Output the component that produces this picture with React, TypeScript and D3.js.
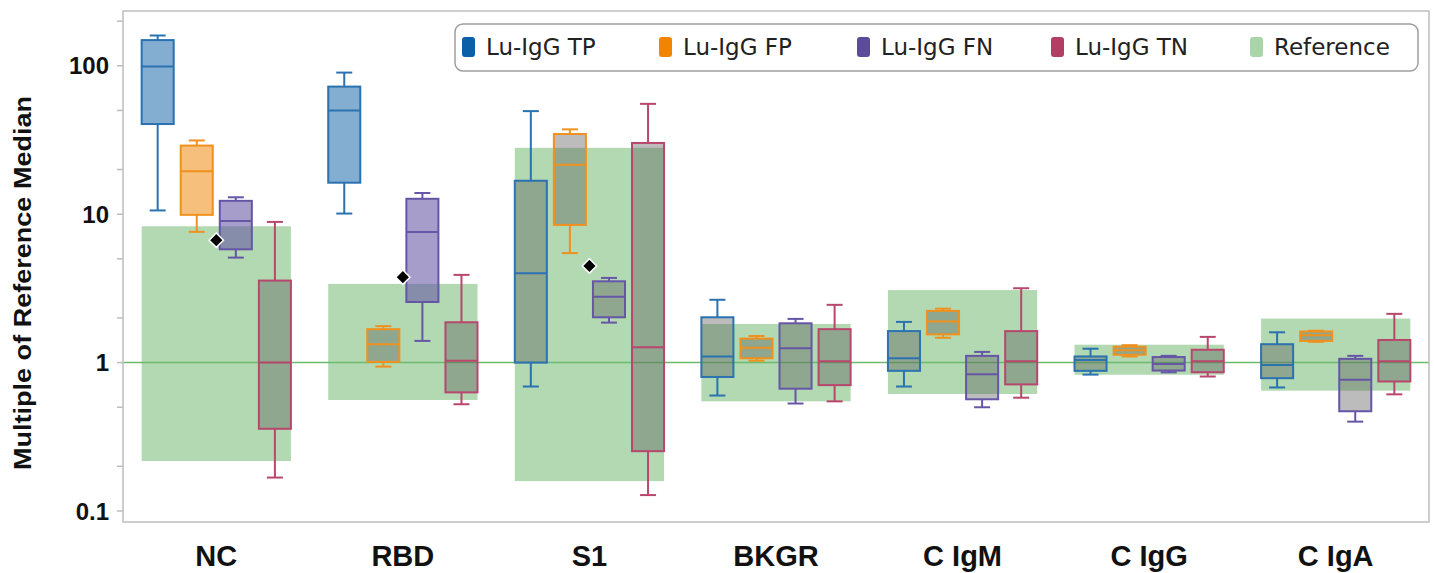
import React, { useEffect, useRef } from "react";
import * as d3 from "d3";

// categories on the x axis
const categories = ["NC", "RBD", "S1", "BKGR", "C IgM", "C IgG", "C IgA"];
const seriesNames = ["Lu-IgG TP", "Lu-IgG FP", "Lu-IgG FN", "Lu-IgG TN"];

// box stats per category: [whisker low, q1, median, q3, whisker high]
const tpStats = [
  [10.6, 40.5, 99, 149, 160],
  [10.1, 16.3, 50, 72.4, 90],
  [0.69, 1.0, 4.0, 16.8, 49.5],
  [0.6, 0.8, 1.1, 2.02, 2.65],
  [0.69, 0.88, 1.07, 1.63, 1.88],
  [0.83, 0.88, 1.04, 1.1, 1.24],
  [0.68, 0.785, 0.965, 1.33, 1.6],
];
const fpStats = [
  [7.6, 9.9, 19.5, 29, 31.4],
  [0.94, 1.01, 1.33, 1.68, 1.76],
  [5.47, 8.47, 21.5, 34.7, 37.3],
  [1.03, 1.07, 1.26, 1.45, 1.51],
  [1.47, 1.55, 1.89, 2.23, 2.31],
  [1.1, 1.13, 1.21, 1.28, 1.31],
  [1.38, 1.4, 1.53, 1.62, 1.64],
];
const fnStats = [
  [5.1, 5.8, 9.0, 12.3, 13.0],
  [1.4, 2.56, 7.6, 12.7, 13.9],
  [1.86, 2.02, 2.78, 3.53, 3.72],
  [0.53, 0.667, 1.25, 1.84, 1.97],
  [0.5, 0.566, 0.835, 1.11, 1.18],
  [0.86, 0.884, 0.98, 1.09, 1.11],
  [0.4, 0.47, 0.766, 1.06, 1.11],
];
const tnStats = [
  [0.168, 0.358, 1.0, 3.57, 8.87],
  [0.524, 0.63, 1.03, 1.87, 3.9],
  [0.128, 0.253, 1.27, 30.2, 55.4],
  [0.548, 0.705, 1.02, 1.68, 2.45],
  [0.58, 0.713, 1.02, 1.63, 3.17],
  [0.806, 0.861, 1.02, 1.22, 1.49],
  [0.611, 0.746, 1.02, 1.42, 2.13],
];

// reference range per category
const refLow = [0.217, 0.56, 0.159, 0.548, 0.614, 0.828, 0.647];
const refHigh = [8.29, 3.39, 28.0, 1.82, 3.08, 1.32, 1.98];

// cutoff markers (diamonds)
const cutoffs = [6.68, 3.76, 4.48, null, null, null, null];

const yTickLabels = [0.1, 1, 10, 100];

const strokeColors = ["#2a72b0", "#f0901e", "#6656a6", "#b8476e"];
const legendColors = ["#0a5fa8", "#f28500", "#5c4b9a", "#b33e64", "#a9d6a9"];

const W = 1434;
const H = 573;
const left = 123;
const right = 1429;
const top = 11;
const bottom = 522;

export default function App() {
  const ref = useRef<SVGSVGElement>(null);

  useEffect(() => {
    const svg = d3.select(ref.current);
    svg.selectAll("*").remove();

    const x = d3
      .scaleBand<string>()
      .domain(categories)
      .range([left, right])
      .paddingInner(0.2)
      .paddingOuter(0.1);
    const xs = d3
      .scaleBand<string>()
      .domain(seriesNames)
      .range([0, x.bandwidth()])
      .paddingInner(0.18)
      .paddingOuter(0);
    const y = d3.scaleLog().domain([0.0843, 234]).range([bottom, top]);

    const allStats = [tpStats, fpStats, fnStats, tnStats];

    // minor + major ticks (1-2-5)
    const tickVals: number[] = [];
    [0.1, 1, 10, 100].forEach((d) => [1, 2, 5].forEach((m) => tickVals.push(d * m)));
    const axis = svg.append("g").attr("transform", `translate(${left},0)`);
    axis
      .selectAll("line")
      .data(tickVals)
      .enter()
      .append("line")
      .attr("x1", -6)
      .attr("x2", 0)
      .attr("y1", (d) => y(d))
      .attr("y2", (d) => y(d))
      .attr("stroke", "#bdbdbd")
      .attr("stroke-width", 1.5);
    axis
      .selectAll("text")
      .data(yTickLabels)
      .enter()
      .append("text")
      .attr("x", -14)
      .attr("y", (d) => y(d))
      .attr("dy", "0.36em")
      .attr("text-anchor", "end")
      .attr("font-family", "Liberation Sans, Arial, sans-serif")
      .attr("font-weight", "bold")
      .attr("font-size", 24)
      .attr("fill", "#111")
      .text((d) => String(d));

    // reference ranges
    svg
      .selectAll("rect.ref")
      .data(categories)
      .enter()
      .append("rect")
      .attr("class", "ref")
      .attr("x", (d) => x(d) as number)
      .attr("width", x.bandwidth())
      .attr("y", (d, i) => y(refHigh[i]))
      .attr("height", (d, i) => y(refLow[i]) - y(refHigh[i]))
      .attr("fill", "#b2d9b2");

    // reference line at 1
    svg
      .append("line")
      .attr("x1", left)
      .attr("x2", right)
      .attr("y1", y(1))
      .attr("y2", y(1))
      .attr("stroke", "#6cbb6c")
      .attr("stroke-width", 1.5);

    // boxes
    categories.forEach((cat, ci) => {
      allStats.forEach((stats, si) => {
        const [lo, q1, med, q3, hi] = stats[ci];
        const bx = (x(cat) as number) + (xs(seriesNames[si]) as number);
        const bw = xs.bandwidth();
        const cx = bx + bw / 2;
        const g = svg.append("g");
        const c = strokeColors[si];
        const inRef = med >= refLow[ci] && med <= refHigh[ci];
        g.append("line")
          .attr("x1", cx).attr("x2", cx)
          .attr("y1", y(hi)).attr("y2", y(q3))
          .attr("stroke", c).attr("stroke-width", 2);
        g.append("line")
          .attr("x1", cx).attr("x2", cx)
          .attr("y1", y(q1)).attr("y2", y(lo))
          .attr("stroke", c).attr("stroke-width", 2);
        [lo, hi].forEach((v) =>
          g.append("line")
            .attr("x1", cx - 8).attr("x2", cx + 8)
            .attr("y1", y(v)).attr("y2", y(v))
            .attr("stroke", c).attr("stroke-width", 2)
        );
        g.append("rect")
          .attr("x", bx)
          .attr("y", y(q3))
          .attr("width", bw)
          .attr("height", y(q1) - y(q3))
          .attr("fill", inRef ? "#606060" : c)
          .attr("fill-opacity", inRef ? 0.42 : 0.58)
          .attr("stroke", c)
          .attr("stroke-width", 2);
        g.append("line")
          .attr("x1", bx).attr("x2", bx + bw)
          .attr("y1", y(med)).attr("y2", y(med))
          .attr("stroke", c).attr("stroke-width", 2);
      });
    });

    // cutoff diamonds
    svg
      .selectAll("path.cut")
      .data(categories.filter((d, i) => cutoffs[i] != null))
      .enter()
      .append("path")
      .attr("class", "cut")
      .attr("d", d3.symbol(d3.symbolDiamond2, 130))
      .attr("transform", (d) => {
        const i = categories.indexOf(d);
        return `translate(${(x(d) as number) + x.bandwidth() / 2},${y(cutoffs[i] as number)})`;
      })
      .attr("fill", "#000")
      .attr("stroke", "#fff")
      .attr("stroke-width", 1.5);

    // frame
    svg
      .append("rect")
      .attr("x", left)
      .attr("y", top)
      .attr("width", right - left)
      .attr("height", bottom - top)
      .attr("fill", "none")
      .attr("stroke", "#bdbdbd")
      .attr("stroke-width", 1.5);

    // category labels
    svg
      .selectAll("text.cat")
      .data(categories)
      .enter()
      .append("text")
      .attr("class", "cat")
      .attr("x", (d) => (x(d) as number) + x.bandwidth() / 2)
      .attr("y", 566)
      .attr("text-anchor", "middle")
      .attr("font-family", "Liberation Sans, Arial, sans-serif")
      .attr("font-weight", "bold")
      .attr("font-size", 29)
      .attr("fill", "#111")
      .text((d) => d);

    // y title
    svg
      .append("text")
      .attr("transform", `translate(31,283) rotate(-90)`)
      .attr("text-anchor", "middle")
      .attr("font-family", "Liberation Sans, Arial, sans-serif")
      .attr("font-weight", "bold")
      .attr("font-size", 23)
      .attr("textLength", 374)
      .attr("lengthAdjust", "spacingAndGlyphs")
      .attr("fill", "#111")
      .text("Multiple of Reference Median");

    // legend
    const legendNames = [...seriesNames, "Reference"];
    const legendX = [462, 659, 857, 1051, 1250];
    const lg = svg.append("g");
    lg.append("rect")
      .attr("x", 455)
      .attr("y", 24)
      .attr("width", 963)
      .attr("height", 47)
      .attr("rx", 8)
      .attr("fill", "#fff")
      .attr("stroke", "#9e9e9e")
      .attr("stroke-width", 1.5);
    const items = lg
      .selectAll("g.item")
      .data(legendNames)
      .enter()
      .append("g")
      .attr("transform", (d, i) => `translate(${legendX[i]},47)`);
    items
      .append("rect")
      .attr("x", 0)
      .attr("y", -10)
      .attr("width", 13)
      .attr("height", 20)
      .attr("rx", 3)
      .attr("fill", (d, i) => legendColors[i]);
    items
      .append("text")
      .attr("x", 24)
      .attr("y", 0)
      .attr("dy", "0.36em")
      .attr("font-family", "DejaVu Sans, sans-serif")
      .attr("font-size", 23)
      .attr("fill", "#222")
      .text((d) => d);
  }, []);

  return (
    <svg
      ref={ref}
      width={W}
      height={H}
      style={{ position: "absolute", left: 0, top: 0, background: "#fff" }}
    />
  );
}
